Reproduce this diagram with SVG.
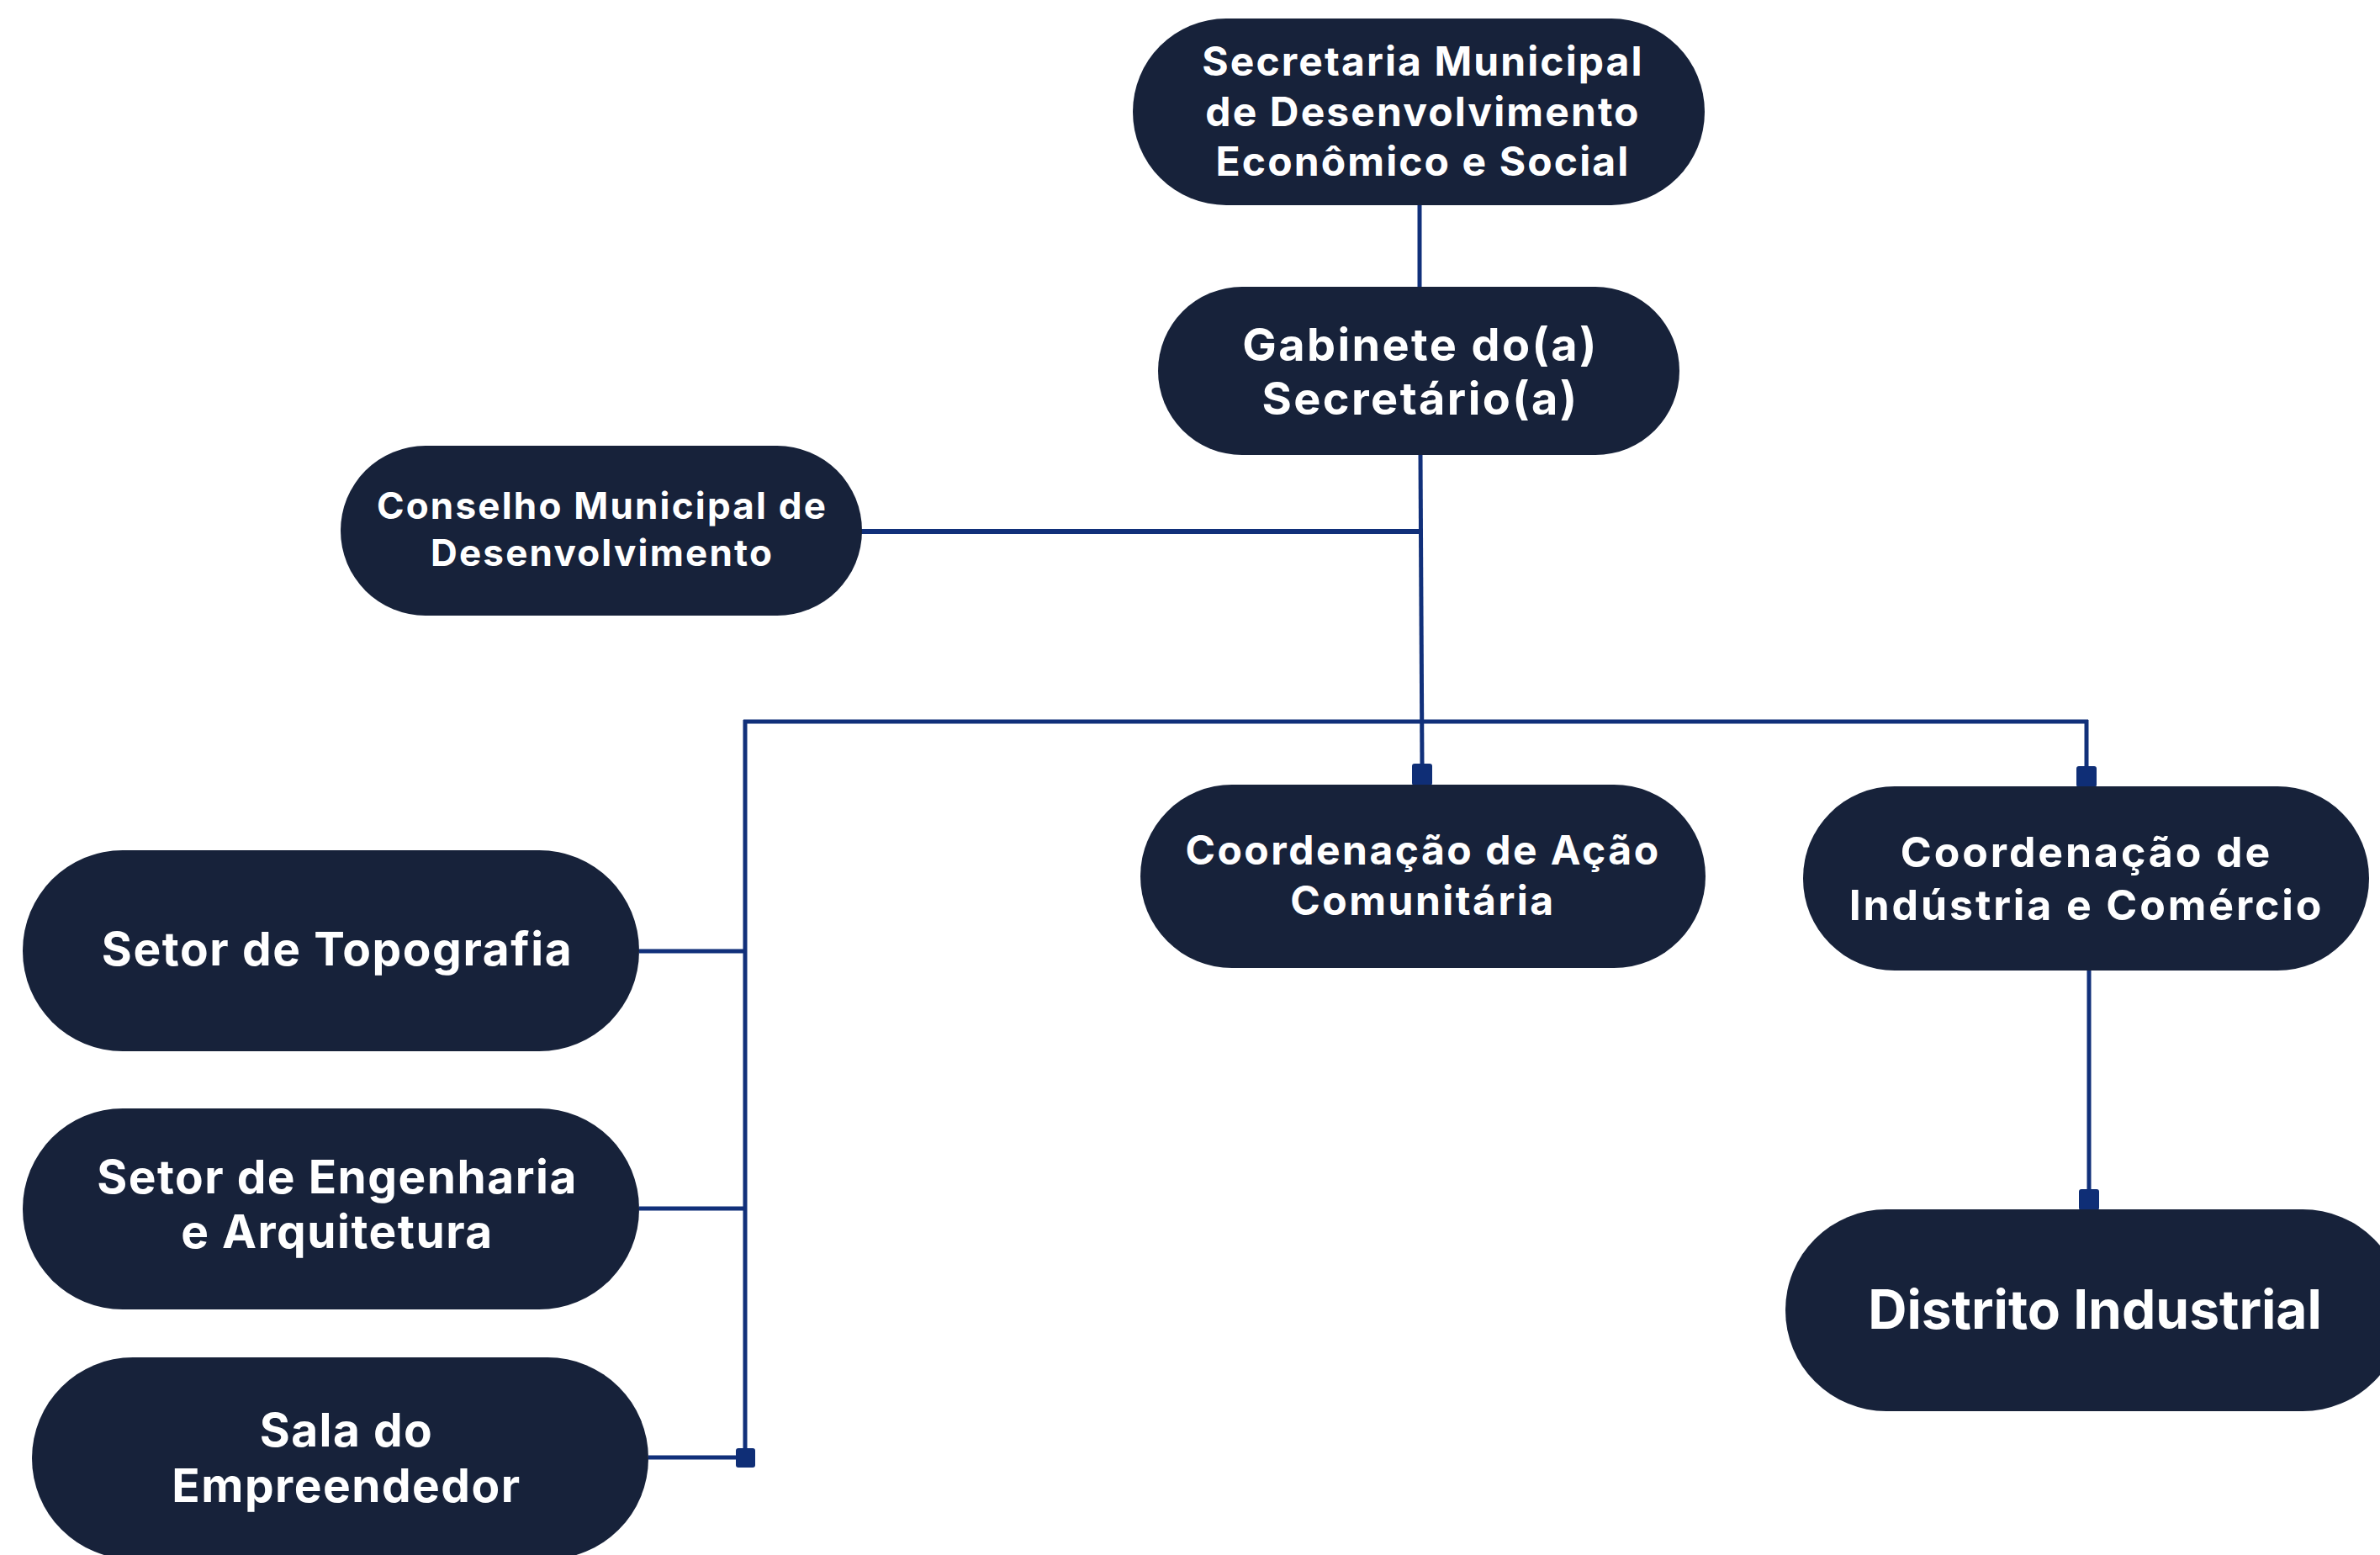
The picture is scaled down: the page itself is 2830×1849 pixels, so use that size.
<svg xmlns="http://www.w3.org/2000/svg" width="2830" height="1849" viewBox="0 0 2830 1849">
<style>
.node{fill:#17223a}
.t{font-family:Inter,"Noto Sans","Liberation Sans",sans-serif;font-weight:700;fill:#ffffff;text-anchor:middle}
.c{stroke:#11307a;stroke-width:5;fill:none}
.m{fill:#0f2e76}
</style>
<rect width="2830" height="1849" fill="#ffffff"/>
<g id="connectors">
<line class="c" x1="1688" y1="244" x2="1688" y2="341"/>
<line class="c" x1="1689" y1="541" x2="1691" y2="910"/>
<line class="c" x1="1023" y1="632" x2="1689" y2="632" style="stroke-width:6"/>
<line class="c" x1="884" y1="858" x2="2483" y2="858"/>
<line class="c" x1="886" y1="856" x2="886" y2="1733"/>
<line class="c" x1="2481" y1="856" x2="2481" y2="912"/>
<line class="c" x1="760" y1="1131" x2="886" y2="1131"/>
<line class="c" x1="760" y1="1437" x2="886" y2="1437"/>
<line class="c" x1="771" y1="1733" x2="886" y2="1733"/>
<line class="c" x1="2484" y1="1154" x2="2484" y2="1415"/>
<rect class="m" x="1679" y="908" width="24" height="26" rx="3"/>
<rect class="m" x="2469" y="911" width="24" height="25" rx="3"/>
<rect class="m" x="875" y="1722" width="23" height="23" rx="3"/>
<rect class="m" x="2472" y="1414" width="24" height="25" rx="3"/>
</g>
<g id="secretaria">
<rect class="node" x="1347" y="22" width="680" height="222" rx="111"/>
<text class="t" font-size="48" letter-spacing="2.1" x="1692" y="90">Secretaria Municipal</text>
<text class="t" font-size="48" letter-spacing="2.1" x="1692" y="150">de Desenvolvimento</text>
<text class="t" font-size="48" letter-spacing="2.1" x="1692" y="209">Econômico e Social</text>
</g>
<g id="gabinete">
<rect class="node" x="1377" y="341" width="620" height="200" rx="100"/>
<text class="t" font-size="54" letter-spacing="2.4" x="1689" y="429">Gabinete do(a)</text>
<text class="t" font-size="54" letter-spacing="2.4" x="1689" y="493">Secretário(a)</text>
</g>
<g id="conselho">
<rect class="node" x="405" y="530" width="620" height="202" rx="101"/>
<text class="t" font-size="44" letter-spacing="2.2" x="716" y="617">Conselho Municipal de</text>
<text class="t" font-size="44" letter-spacing="2.2" x="716" y="673">Desenvolvimento</text>
</g>
<g id="acao">
<rect class="node" x="1356" y="933" width="672" height="218" rx="109"/>
<text class="t" font-size="48" letter-spacing="2.5" x="1692" y="1028">Coordenação de Ação</text>
<text class="t" font-size="48" letter-spacing="2.5" x="1692" y="1088">Comunitária</text>
</g>
<g id="industria">
<rect class="node" x="2144" y="935" width="673" height="219" rx="109"/>
<text class="t" font-size="50" letter-spacing="2.9" x="2481" y="1031">Coordenação de</text>
<text class="t" font-size="50" letter-spacing="2.9" x="2481" y="1094">Indústria e Comércio</text>
</g>
<g id="topografia">
<rect class="node" x="27" y="1011" width="733" height="239" rx="119"/>
<text class="t" font-size="55" letter-spacing="1.6" x="401" y="1148">Setor de Topografia</text>
</g>
<g id="engenharia">
<rect class="node" x="27" y="1318" width="733" height="239" rx="119"/>
<text class="t" font-size="55" letter-spacing="1.5" x="401" y="1419">Setor de Engenharia</text>
<text class="t" font-size="55" letter-spacing="1.5" x="401" y="1484">e Arquitetura</text>
</g>
<g id="sala">
<rect class="node" x="38" y="1614" width="733" height="240" rx="120"/>
<text class="t" font-size="55" letter-spacing="1.5" x="412" y="1720">Sala do</text>
<text class="t" font-size="55" letter-spacing="1.5" x="412" y="1786">Empreendedor</text>
</g>
<g id="distrito">
<rect class="node" x="2123" y="1438" width="735" height="240" rx="120"/>
<text class="t" font-size="64" x="2491" y="1580">Distrito Industrial</text>
</g>
</svg>
